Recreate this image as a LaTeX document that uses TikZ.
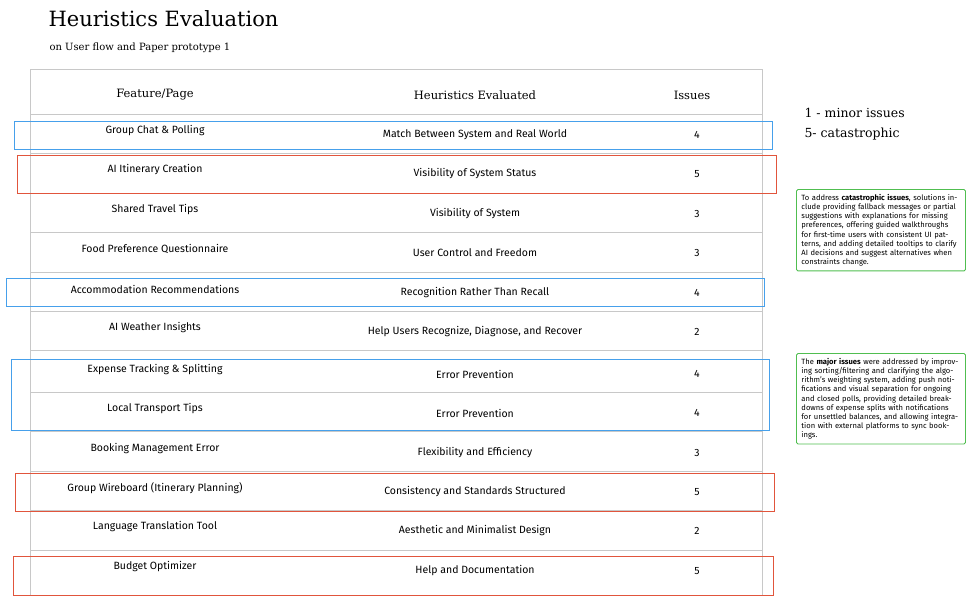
\documentclass[tikz,border=0pt]{standalone}
\usepackage{fontspec}
\setmainfont{Fira Sans}
\newfontfamily\titlefont{DejaVu Serif}
\usetikzlibrary{positioning,calc}

\definecolor{gridgray}{RGB}{200,200,200}
\definecolor{hlblue}{RGB}{70,160,235}
\definecolor{hlred}{RGB}{225,85,60}
\definecolor{notegreen}{RGB}{80,190,80}

\begin{document}
\begin{tikzpicture}[x=1pt,y=-1pt,
    cell/.style={font=\fontsize{10.5}{12}\selectfont, anchor=center},
    head/.style={font=\titlefont\fontsize{11.5}{13}\selectfont, anchor=center},
    hlbox/.style={draw, line width=0.9pt},
    note/.style={draw=notegreen, line width=0.9pt, rounded corners=1.5pt, inner sep=5pt,
      text width=159pt, align=left, font=\fontsize{7.6}{9.1}\selectfont, anchor=north west}
  ]
    \useasboundingbox (0,0) rectangle (979,611);
    % title
    \node[anchor=west, font=\titlefont\fontsize{21}{24}\selectfont] (title) at (45,19) {Heuristics Evaluation};
    \node[anchor=west, font=\titlefont\fontsize{10}{12}\selectfont] (subtitle) at (46,48) {on User flow and Paper prototype 1};
    % table frame and rules
    \draw[gridgray] (30,69) rectangle (762,595);
    \foreach \y in {114,153,193,232,272,311,350,392,431,471,510,550}
      \draw[gridgray] (30,\y) -- (762,\y);
    % header
    \node[head] (hfeat) at (155,95) {Feature/Page};
    \node[head] (hheur) at (475,95) {Heuristics Evaluated};
    \node[head] (hiss) at (692,95) {Issues};
    % rows
    \foreach \n/\f/\h/\s/\y in {
      1/Group Chat \& Polling/Match Between System and Real World/4/133,
      2/AI Itinerary Creation/Visibility of System Status/5/172,
      3/Shared Travel Tips/Visibility of System/3/212,
      4/Food Preference Questionnaire/User Control and Freedom/3/251,
      5/Accommodation Recommendations/Recognition Rather Than Recall/4/291,
      6/AI Weather Insights/{Help Users Recognize, Diagnose, and Recover}/2/330,
      7/Expense Tracking \& Splitting/Error Prevention/4/372,
      8/Local Transport Tips/Error Prevention/4/411,
      9/Booking Management Error/Flexibility and Efficiency/3/451,
      10/Group Wireboard (Itinerary Planning)/Consistency and Standards Structured/5/490,
      11/Language Translation Tool/Aesthetic and Minimalist Design/2/529,
      12/Budget Optimizer/Help and Documentation/5/569}{
      \node[cell] (feat\n) at (155,\y-2) {\f};
      \node[cell] (heur\n) at (475,\y+2) {\h};
      \node[cell] (iss\n) at (697,\y+2) {\s};
    }
    % highlight boxes
    \draw[hlbox, hlblue] (14,121) rectangle (772,149);
    \draw[hlbox, hlred] (17,155) rectangle (776,193);
    \draw[hlbox, hlblue] (6,278) rectangle (764,306);
    \draw[hlbox, hlblue] (11,359) rectangle (769,430);
    \draw[hlbox, hlred] (15,473) rectangle (774,511);
    \draw[hlbox, hlred] (13,556) rectangle (773,595);
    % legend
    \node[anchor=west, font=\titlefont\fontsize{12.5}{14}\selectfont] (legmin) at (801,113) {1 - minor issues};
    \node[font=\titlefont\fontsize{12.5}{14}\selectfont, below=3pt of legmin.south west, anchor=north west] (legcat) {5- catastrophic};
    % notes
    \node[note] (notecat) at (796,189) {To address \textbf{catastrophic issues}, solutions include providing fallback messages or partial suggestions with explanations for missing preferences, offering guided walkthroughs for first-time users with consistent UI patterns, and adding detailed tooltips to clarify AI decisions and suggest alternatives when constraints change.};
    \node[note] (notemaj) at (796,353) {The \textbf{major issues} were addressed by improving sorting/filtering and clarifying the algorithm's weighting system, adding push notifications and visual separation for ongoing and closed polls, providing detailed breakdowns of expense splits with notifications for unsettled balances, and allowing integration with external platforms to sync bookings.};
\end{tikzpicture}
\end{document}
